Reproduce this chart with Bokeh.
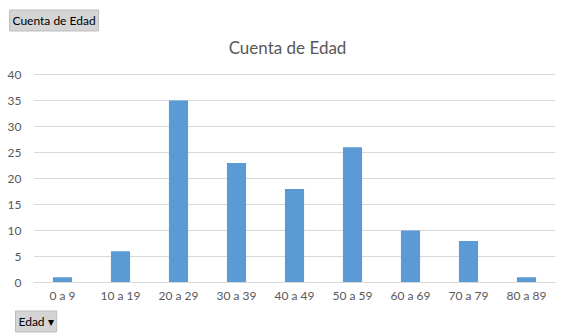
from bokeh.plotting import figure
from bokeh.models import Title, Label, ColumnDataSource
from bokeh.embed import file_html
from bokeh.resources import INLINE

categories = ["0 a 9", "10 a 19", "20 a 29", "30 a 39", "40 a 49", "50 a 59", "60 a 69", "70 a 79", "80 a 89"]
counts = [1, 6, 35, 23, 18, 26, 10, 8, 1]
y_ticks = [0, 5, 10, 15, 20, 25, 30, 35, 40]
title_text = "Cuenta de Edad"
field_button = "Cuenta de Edad"
axis_button = "Edad \u25BE"

FONT = "Lato"
GRAY = "#595959"

# layout geometry (pixels)
W, H = 564, 335
TOP, BOTTOM, LEFT, RIGHT = 34, 53, 33, 9
GRID_TOP_PX = 74          # where the top tick (40) sits on the canvas
px_per_unit = (H - BOTTOM - GRID_TOP_PX) / y_ticks[-1]
y_end = y_ticks[-1] + (GRID_TOP_PX - TOP) / px_per_unit

p = figure(width=W, height=H, x_range=categories, y_range=(0, y_end),
           output_backend="svg", toolbar_location=None,
           min_border_left=LEFT, min_border_right=RIGHT, min_border_top=TOP, min_border_bottom=BOTTOM,
           outline_line_color=None, background_fill_color="white", border_fill_color="white")

src = ColumnDataSource(dict(x=categories, top=counts))
p.vbar(x="x", top="top", width=0.33, source=src, fill_color="#5b9bd5", line_color=None)

# chart title inside the frame (screen units from frame bottom-left)
p.add_layout(Label(x=254, y=H - BOTTOM - 47, x_units="screen", y_units="screen", text=title_text,
                   text_font=FONT, text_font_size="17px", text_color=GRAY,
                   text_align="center", text_baseline="middle"))

# pivot field buttons
p.add_layout(Title(text=field_button, text_font=FONT, text_font_size="12px", text_font_style="normal",
                   text_color="black", align="left", offset=-24, standoff=7,
                   background_fill_color="#d4d4d4", border_line_color="#bdbdbd", padding=3), "above")
p.add_layout(Title(text=axis_button, text_font=FONT, text_font_size="12px", text_font_style="normal",
                   text_color="black", align="left", offset=-18, standoff=7,
                   background_fill_color="#d4d4d4", border_line_color="#bdbdbd", padding=3), "below")

p.yaxis.ticker = y_ticks
p.yaxis.axis_line_color = None
p.yaxis.major_tick_line_color = None
p.yaxis.minor_tick_line_color = None
p.yaxis.major_tick_out = 0
p.yaxis.major_label_standoff = 12
p.yaxis.major_label_text_font = FONT
p.yaxis.major_label_text_font_size = "12px"
p.yaxis.major_label_text_color = GRAY

p.xaxis.axis_line_color = "#d9d9d9"
p.xaxis.major_tick_line_color = None
p.xaxis.minor_tick_line_color = None
p.xaxis.major_tick_out = 0
p.xaxis.major_label_standoff = 5
p.xaxis.major_label_text_font = FONT
p.xaxis.major_label_text_font_size = "12px"
p.xaxis.major_label_text_color = GRAY

p.xgrid.grid_line_color = None
p.ygrid.grid_line_color = "#d9d9d9"
p.ygrid.ticker = y_ticks

open("out.html", "w").write(file_html(p, INLINE))
